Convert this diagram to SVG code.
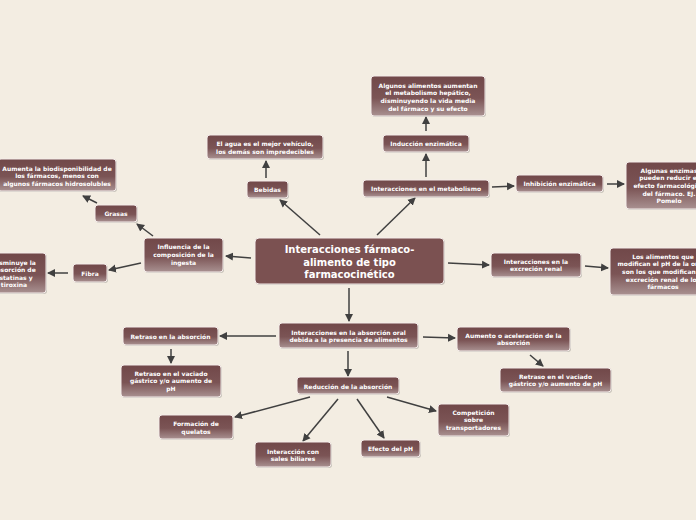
<svg xmlns="http://www.w3.org/2000/svg" width="696" height="520" viewBox="0 0 696 520">
<defs>
<linearGradient id="g" x1="0" y1="0" x2="0" y2="1">
<stop offset="0" stop-color="#714849"/>
<stop offset="0.55" stop-color="#7b5455"/>
<stop offset="1" stop-color="#a99191"/>
</linearGradient>
<marker id="ah" markerUnits="userSpaceOnUse" markerWidth="9" markerHeight="9" refX="7" refY="4.5" orient="auto">
<path d="M0,0.5 L8,4.5 L0,8.5 z" fill="#404040"/>
</marker>
<style>
.n rect.b{fill:url(#g);stroke:#f4ecea;stroke-width:1}
.n rect.s{fill:#000;opacity:0.18}
.n text{font-family:"DejaVu Sans",Verdana,sans-serif;font-weight:bold;font-size:6px;fill:#ffffff;text-anchor:middle}
.c text{font-size:10px}
.e line{stroke:#404040;stroke-width:1.5;marker-end:url(#ah)}
</style>
</defs>
<rect width="696" height="520" fill="#f3ede2"/>

<g class="e" id="connectors">
<line x1="377" y1="235" x2="415" y2="198"/>
<line x1="320" y1="235" x2="280" y2="200"/>
<line x1="266" y1="178" x2="266" y2="161"/>
<line x1="426" y1="177" x2="426" y2="154"/>
<line x1="426" y1="131" x2="426" y2="117"/>
<line x1="492" y1="187" x2="514" y2="186"/>
<line x1="607" y1="184" x2="624" y2="184"/>
<line x1="251" y1="258" x2="226" y2="256"/>
<line x1="153" y1="236" x2="137" y2="224"/>
<line x1="97" y1="203" x2="83" y2="196"/>
<line x1="141" y1="263" x2="109" y2="270"/>
<line x1="68" y1="273" x2="48" y2="273"/>
<line x1="448" y1="263" x2="489" y2="265"/>
<line x1="585" y1="266" x2="608" y2="268"/>
<line x1="349" y1="288" x2="349" y2="321"/>
<line x1="276" y1="336" x2="220" y2="336"/>
<line x1="171" y1="349" x2="171" y2="363"/>
<line x1="423" y1="337" x2="455" y2="338"/>
<line x1="530" y1="355" x2="543" y2="366"/>
<line x1="348" y1="351" x2="348" y2="376"/>
<line x1="310" y1="397" x2="235" y2="417"/>
<line x1="338" y1="399" x2="303" y2="441"/>
<line x1="357" y1="399" x2="384" y2="438"/>
<line x1="387" y1="397" x2="436" y2="411"/>
</g>

<g class="n c" id="central">
<rect class="s" x="256" y="239" width="189" height="46" rx="4"/>
<rect x="255" y="238" width="189" height="46" rx="4" fill="#7b5151" stroke="#f4ecea" stroke-width="1"/>
<text x="349.5" y="253">Interacciones fármaco-</text>
<text x="349.5" y="265.5">alimento de tipo</text>
<text x="349.5" y="278">farmacocinético</text>
</g>

<g class="n" id="n_aumentan">
<rect class="s" x="372" y="77" width="114" height="40" rx="3"/>
<rect class="b" x="371" y="76" width="114" height="40" rx="3"/>
<text x="428" y="87.5">Algunos alimentos aumentan</text>
<text x="428" y="95.2">el metabolismo hepático,</text>
<text x="428" y="102.9">disminuyendo la vida media</text>
<text x="428" y="110.6">del fármaco y su efecto</text>
</g>

<g class="n" id="n_induccion">
<rect class="s" x="384" y="136" width="86" height="17" rx="3"/>
<rect class="b" x="383" y="135" width="86" height="17" rx="3"/>
<text x="426" y="145.8">Inducción enzimática</text>
</g>

<g class="n" id="n_metabolismo">
<rect class="s" x="364" y="181" width="126" height="17" rx="3"/>
<rect class="b" x="363" y="180" width="126" height="17" rx="3"/>
<text x="426" y="190.8">Interacciones en el metabolismo</text>
</g>

<g class="n" id="n_inhibicion">
<rect class="s" x="517" y="176" width="87" height="17" rx="3"/>
<rect class="b" x="516" y="175" width="87" height="17" rx="3"/>
<text x="559.5" y="185.8">Inhibición enzimática</text>
</g>

<g class="n" id="n_enzimas">
<rect class="s" x="627" y="163" width="86" height="47" rx="3"/>
<rect class="b" x="626" y="162" width="86" height="47" rx="3"/>
<text x="669" y="172.5">Algunas enzimas</text>
<text x="669" y="180.2">pueden reducir el</text>
<text x="669" y="187.9">efecto farmacológico</text>
<text x="669" y="195.6">del fármaco. EJ.</text>
<text x="669" y="203.3">Pomelo</text>
</g>

<g class="n" id="n_agua">
<rect class="s" x="208" y="136" width="116" height="24" rx="3"/>
<rect class="b" x="207" y="135" width="116" height="24" rx="3"/>
<text x="265" y="146">El agua es el mejor vehículo,</text>
<text x="265" y="153.5">los demás son impredecibles</text>
</g>

<g class="n" id="n_bebidas">
<rect class="s" x="248" y="182" width="41" height="17" rx="3"/>
<rect class="b" x="247" y="181" width="41" height="17" rx="3"/>
<text x="267.5" y="192">Bebidas</text>
</g>

<g class="n" id="n_biodisp">
<rect class="s" x="-1" y="160" width="118" height="32" rx="3"/>
<rect class="b" x="-2" y="159" width="118" height="32" rx="3"/>
<text x="57" y="170.5">Aumenta la biodisponibilidad de</text>
<text x="57" y="178">los fármacos, menos con</text>
<text x="57" y="185.5">algunos fármacos hidrosolubles</text>
</g>

<g class="n" id="n_grasas">
<rect class="s" x="96" y="206" width="42" height="17" rx="3"/>
<rect class="b" x="95" y="205" width="42" height="17" rx="3"/>
<text x="116" y="216">Grasas</text>
</g>

<g class="n" id="n_influencia">
<rect class="s" x="145" y="239" width="79" height="34" rx="3"/>
<rect class="b" x="144" y="238" width="79" height="34" rx="3"/>
<text x="183.5" y="249">Influencia de la</text>
<text x="183.5" y="256.8">composición de la</text>
<text x="183.5" y="264.6">ingesta</text>
</g>

<g class="n" id="n_fibra">
<rect class="s" x="74" y="265" width="34" height="18" rx="3"/>
<rect class="b" x="73" y="264" width="34" height="18" rx="3"/>
<text x="90" y="276">Fibra</text>
</g>

<g class="n" id="n_disminuye">
<rect class="s" x="-9" y="254" width="56" height="40" rx="3"/>
<rect class="b" x="-10" y="253" width="56" height="40" rx="3"/>
<text x="14" y="264.8">Disminuye la</text>
<text x="14" y="272.3">absorción de</text>
<text x="14" y="279.8">estatinas y</text>
<text x="14" y="287.3">tiroxina</text>
</g>

<g class="n" id="n_excrecion">
<rect class="s" x="492" y="254" width="90" height="24" rx="3"/>
<rect class="b" x="491" y="253" width="90" height="24" rx="3"/>
<text x="536" y="263.8">Interacciones en la</text>
<text x="536" y="271">excreción renal</text>
</g>

<g class="n" id="n_orina">
<rect class="s" x="611" y="249" width="106" height="47" rx="3"/>
<rect class="b" x="610" y="248" width="106" height="47" rx="3"/>
<text x="663" y="258.5">Los alimentos que</text>
<text x="663" y="266.2">modifican el pH de la orina</text>
<text x="663" y="273.9">son los que modifican la</text>
<text x="663" y="281.6">excreción renal de los</text>
<text x="663" y="289.3">fármacos</text>
</g>

<g class="n" id="n_absorcion_oral">
<rect class="s" x="280" y="324" width="139" height="25" rx="3"/>
<rect class="b" x="279" y="323" width="139" height="25" rx="3"/>
<text x="348.5" y="334.8">Interacciones en la absorción oral</text>
<text x="348.5" y="342">debida a la presencia de alimentos</text>
</g>

<g class="n" id="n_retraso">
<rect class="s" x="124" y="328" width="95" height="18" rx="3"/>
<rect class="b" x="123" y="327" width="95" height="18" rx="3"/>
<text x="170.5" y="338.5">Retraso en la absorción</text>
</g>

<g class="n" id="n_vaciado_izq">
<rect class="s" x="122" y="366" width="100" height="32" rx="3"/>
<rect class="b" x="121" y="365" width="100" height="32" rx="3"/>
<text x="171" y="375.5">Retraso en el vaciado</text>
<text x="171" y="383.2">gástrico y/o aumento de</text>
<text x="171" y="390.9">pH</text>
</g>

<g class="n" id="n_aumento">
<rect class="s" x="458" y="328" width="113" height="24" rx="3"/>
<rect class="b" x="457" y="327" width="113" height="24" rx="3"/>
<text x="513.5" y="337.8">Aumento o aceleración de la</text>
<text x="513.5" y="345">absorción</text>
</g>

<g class="n" id="n_vaciado_der">
<rect class="s" x="501" y="369" width="111" height="24" rx="3"/>
<rect class="b" x="500" y="368" width="111" height="24" rx="3"/>
<text x="555.5" y="378.8">Retraso en el vaciado</text>
<text x="555.5" y="386">gástrico y/o aumento de pH</text>
</g>

<g class="n" id="n_reduccion">
<rect class="s" x="298" y="378" width="102" height="17" rx="3"/>
<rect class="b" x="297" y="377" width="102" height="17" rx="3"/>
<text x="348" y="388.5">Reducción de la absorción</text>
</g>

<g class="n" id="n_quelatos">
<rect class="s" x="160" y="416" width="74" height="24" rx="3"/>
<rect class="b" x="159" y="415" width="74" height="24" rx="3"/>
<text x="196" y="426">Formación de</text>
<text x="196" y="433.5">quelatos</text>
</g>

<g class="n" id="n_biliares">
<rect class="s" x="256" y="443" width="76" height="25" rx="3"/>
<rect class="b" x="255" y="442" width="76" height="25" rx="3"/>
<text x="293" y="453.8">Interacción con</text>
<text x="293" y="461">sales biliares</text>
</g>

<g class="n" id="n_ph">
<rect class="s" x="362" y="441" width="59" height="17" rx="3"/>
<rect class="b" x="361" y="440" width="59" height="17" rx="3"/>
<text x="390.5" y="450.5">Efecto del pH</text>
</g>

<g class="n" id="n_competicion">
<rect class="s" x="439" y="405" width="71" height="32" rx="3"/>
<rect class="b" x="438" y="404" width="71" height="32" rx="3"/>
<text x="473.5" y="414.8">Competición</text>
<text x="473.5" y="422.2">sobre</text>
<text x="473.5" y="429.6">transportadores</text>
</g>
</svg>
